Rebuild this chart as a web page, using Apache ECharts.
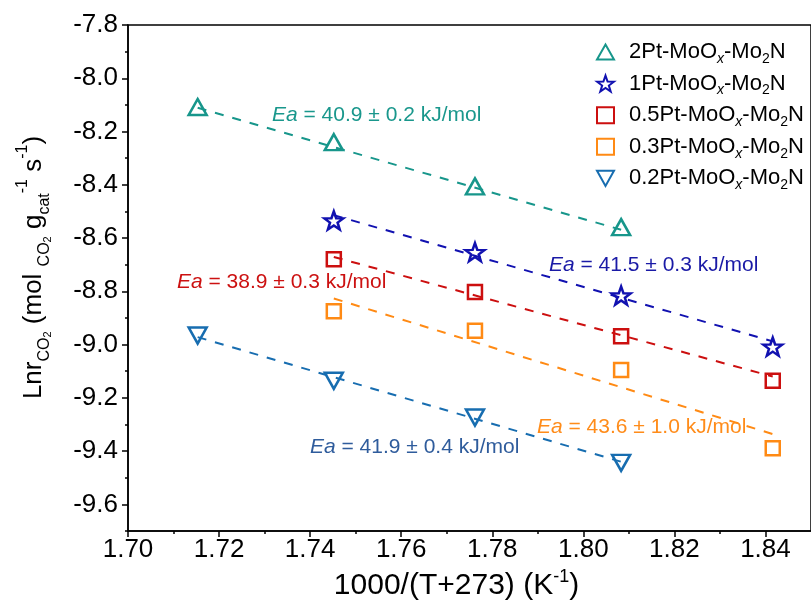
<!DOCTYPE html>
<html><head><meta charset="utf-8">
<script src="https://cdn.jsdelivr.net/npm/echarts@6/dist/echarts.min.js"></script>
<style>html,body{margin:0;padding:0;background:#fff}#c{width:811px;height:608px}</style>
</head><body><div id="c"></div>
<script>
// ---- data ----
const seriesNames = ['2Pt', '1Pt', '0.5Pt', '0.3Pt', '0.2Pt'];
const xTicks = [1.70, 1.72, 1.74, 1.76, 1.78, 1.80, 1.82, 1.84];
const xMinorTicks = [1.71, 1.73, 1.75, 1.77, 1.79, 1.81, 1.83];
const yTicks = [-9.6, -9.4, -9.2, -9.0, -8.8, -8.6, -8.4, -8.2, -8.0, -7.8];
const yMinorTicks = [-9.7, -9.5, -9.3, -9.1, -8.9, -8.7, -8.5, -8.3, -8.1, -7.9];

const pts2Pt  = [[1.7153, -8.108], [1.7452, -8.240], [1.7762, -8.406], [1.8083, -8.559]];
const pts1Pt  = [[1.7452, -8.534], [1.7762, -8.653], [1.8083, -8.816], [1.8416, -9.008]];
const pts05Pt = [[1.7452, -8.680], [1.7762, -8.803], [1.8083, -8.969], [1.8416, -9.136]];
const pts03Pt = [[1.7452, -8.875], [1.7762, -8.948], [1.8083, -9.095], [1.8416, -9.389]];
const pts02Pt = [[1.7153, -8.966], [1.7452, -9.136], [1.7762, -9.274], [1.8083, -9.444]];

const fit2Pt  = [[1.7153, -8.111], [1.8083, -8.569]];
const fit1Pt  = [[1.7452, -8.514], [1.8416, -8.988]];
const fit05Pt = [[1.7452, -8.671], [1.8416, -9.120]];
const fit03Pt = [[1.7452, -8.827], [1.8416, -9.336]];
const fit02Pt = [[1.7153, -8.972], [1.8083, -9.440]];

const eaValues = ['40.9 ± 0.2', '41.5 ± 0.3', '38.9 ± 0.3', '43.6 ± 1.0', '41.9 ± 0.4'];

// ---- styles ----
const FONT = 'Arial, "Liberation Sans", sans-serif';
const colors = ['#17968b', '#1111b0', '#cc0f0f', '#ff8a14', '#176db0'];
const textColors = ['#19978c', '#1a1aa6', '#cc1111', '#ff8c1a', '#2f5c9c'];
const starPath = 'path://M0,-10 L2.35,-3.24 L9.51,-3.09 L3.8,1.24 L5.88,8.09 L0,4 L-5.88,8.09 L-3.8,1.24 L-9.51,-3.09 L-2.35,-3.24 Z';
const triUp = 'path://M9,0 L18,16 L0,16 Z';
const triDown = 'path://M0,0 L18,0 L9,16 Z';
const symbols = [triUp, starPath, 'rect', 'rect', triDown];
const symbolSizes = [[18, 16], [19, 18], 14, 14, [18, 16]];
const ptsAll = [pts2Pt, pts1Pt, pts05Pt, pts03Pt, pts02Pt];
const fitAll = [fit2Pt, fit1Pt, fit05Pt, fit03Pt, fit02Pt];
const annPos = [[272, 115], [549, 265], [177, 282], [537, 427], [310, 447]];

const chart = echarts.init(document.getElementById('c'), null, {renderer: 'canvas'});

const series = [];
fitAll.forEach((f, i) => {
  series.push({
    name: 'fit' + seriesNames[i], type: 'line', data: f, symbol: 'none', silent: true,
    lineStyle: {color: colors[i], width: 2, type: [9, 9]}, z: 2
  });
});
ptsAll.forEach((p, i) => {
  series.push({
    name: seriesNames[i], type: 'scatter', data: p, symbol: symbols[i],
    symbolSize: symbolSizes[i],
    itemStyle: {color: 'rgba(255,255,255,0)', borderColor: colors[i], borderWidth: 2.5, opacity: 1},
    z: 3
  });
});

const graphics = eaValues.map((v, i) => ({
  type: 'text', x: annPos[i][0], y: annPos[i][1],
  style: {
    text: '{i|Ea} = ' + v + ' kJ/mol',
    fill: textColors[i], font: '21px ' + FONT, verticalAlign: 'middle',
    rich: {i: {fontStyle: 'italic', fontSize: 21, fontFamily: FONT, fill: textColors[i]}}
  }
}));

const axisBase = {
  type: 'value', axisLine: {show: false}, axisLabel: {show: false},
  splitLine: {show: false}
};

chart.setOption({
  animation: false,
  backgroundColor: '#fff',
  grid: {left: 128, top: 25, right: -7, bottom: 77, show: true, borderColor: '#000', borderWidth: 1.5},
  legend: {
    orient: 'vertical', left: 591, top: 33, itemWidth: 17, itemHeight: 16, itemGap: 3.6,
    data: seriesNames.map((n, i) => ({name: n, icon: symbols[i]})),
    formatter: n => n + '-MoO{x|x}-Mo{s|2}N',
    textStyle: {
      fontSize: 22, fontFamily: FONT, color: '#000', lineHeight: 28, padding: [0, 0, 0, 10],
      rich: {
        x: {fontSize: 14, fontStyle: 'italic', fontFamily: FONT, verticalAlign: 'bottom', lineHeight: 14},
        s: {fontSize: 14, fontFamily: FONT, verticalAlign: 'bottom', lineHeight: 14}
      }
    }
  },
  xAxis: [{
    type: 'value', min: 1.70, max: 1.85,
    name: '{b|1000/(T+273) (K}{p|-1}{b|)}', nameLocation: 'middle', nameGap: 28,
    nameTextStyle: {
      padding: [0, 26, 0, 0],
      rich: {
        b: {fontSize: 30, fontFamily: FONT, color: '#000', lineHeight: 36},
        p: {fontSize: 18, fontFamily: FONT, color: '#000', verticalAlign: 'top', lineHeight: 18}
      }
    },
    axisLine: {show: true, onZero: false, lineStyle: {color: '#000', width: 1.5}},
    axisTick: {show: true, inside: false, length: 6, customValues: xTicks, lineStyle: {color: '#000', width: 1.5}},
    axisLabel: {customValues: xTicks, fontSize: 26, fontFamily: FONT, color: '#000', margin: 6,
      formatter: v => v.toFixed(2)},
    splitLine: {show: false}
  }, Object.assign({}, axisBase, {
    min: 1.70, max: 1.85, position: 'bottom',
    axisTick: {show: true, length: 3, customValues: xMinorTicks, lineStyle: {color: '#000', width: 1.5}}
  })],
  yAxis: [{
    type: 'value', min: -9.7, max: -7.8,
    name: '{b|Lnr}{s|CO}{s2|2}{b| (mol }{s|CO}{s2|2}{b| g}{s|cat}{p|-1}{b| s}{p|-1}{b|)}',
    nameLocation: 'middle', nameRotate: 90, nameGap: 75,
    nameTextStyle: {
      padding: [0, 0, 0, 21],
      rich: {
        b: {fontSize: 26, fontFamily: FONT, color: '#000', lineHeight: 38},
        s: {fontSize: 16, fontFamily: FONT, color: '#000', verticalAlign: 'bottom', lineHeight: 16},
        s2: {fontSize: 11, fontFamily: FONT, color: '#000', verticalAlign: 'bottom', lineHeight: 8},
        p: {fontSize: 16, fontFamily: FONT, color: '#000', verticalAlign: 'top', lineHeight: 16}
      }
    },
    axisLine: {show: true, onZero: false, lineStyle: {color: '#000', width: 1.5}},
    axisTick: {show: true, inside: false, length: 6, customValues: yTicks, lineStyle: {color: '#000', width: 1.5}},
    axisLabel: {customValues: yTicks, fontSize: 26, fontFamily: FONT, color: '#000', margin: 10,
      formatter: v => v.toFixed(1)},
    splitLine: {show: false}
  }, Object.assign({}, axisBase, {
    min: -9.7, max: -7.8, position: 'left',
    axisTick: {show: true, length: 3, customValues: yMinorTicks, lineStyle: {color: '#000', width: 1.5}}
  })],
  graphic: graphics,
  series: series
});
</script></body></html>
